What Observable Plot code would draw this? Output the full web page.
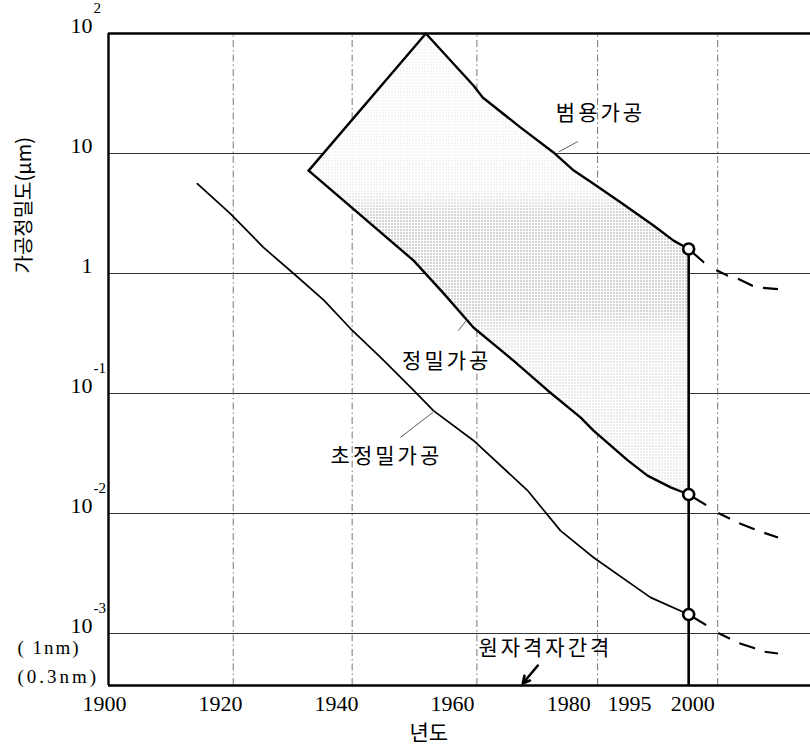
<!DOCTYPE html>
<html><head><meta charset="utf-8">
<script src="https://cdn.jsdelivr.net/npm/d3@7"></script>
<script src="https://cdn.jsdelivr.net/npm/@observablehq/plot@0.6"></script>
<style>html,body{margin:0;padding:0;background:#fff;}</style>
</head><body><div id="chart"></div>
<script>
// ---------- data ----------
const xTickYears = [1900, 1920, 1940, 1960, 1980, 1990.5];
const xTickLabels = ["1900", "1920", "1940", "1960", "1980", "1995"];
const xEndYears = [2000];
const xEndLabels = ["2000"];
const gridYears = [1921.5, 1942, 1963.5, 1984.3, 2005];

const yTickValues = [100, 10, 1, 0.1, 0.01, 0.001];
const yTickBase = ["10", "10", "1", "10", "10", "10"];
const yTickExp = ["2", "", "", "-1", "-2", "-3"];
const yGridValues = [10, 1, 0.1, 0.01, 0.001];
const yMin = Math.pow(10, -3.4333);
const nmValues = [0.001, yMin];
const nmLabels = ["( 1nm)", "(0.3nm)"];

// 범용가공 (upper boundary, from left corner over the peak)
const generalYears  = [1934.5, 1954.7, 1962.9, 1964.5, 1971.0, 1976.7, 1980.2, 1983.6, 1988.3, 1994.0, 1997.4, 2000];
const generalValues = [7.2, 100, 36.9, 29.3, 16.5, 10.2, 7.2, 5.6, 3.9, 2.5, 1.88, 1.6];
// 정밀가공 (lower boundary)
const precisionYears  = [1934.5, 1952.6, 1957.8, 1962.9, 1969.8, 1975.7, 1981.4, 1983.6, 1989.5, 1992.9, 1996.9, 2000];
const precisionValues = [7.2, 1.28, 0.68, 0.355, 0.188, 0.106, 0.063, 0.049, 0.0277, 0.0207, 0.0165, 0.0144];
// 초정밀가공
const ultraYears  = [1915.3, 1921.0, 1926.7, 1931.9, 1937.1, 1941.7, 1946.9, 1952.6, 1956.0, 1962.9, 1972.2, 1977.9, 1983.6, 1993.4, 2000];
const ultraValues = [5.6, 3.16, 1.65, 1.0, 0.6, 0.348, 0.2, 0.106, 0.072, 0.0406, 0.0156, 0.0072, 0.0043, 0.002, 0.00144];

// dashed extrapolation beyond 2000
const extYears = [2000, 2002.6, 2004.9, 2006.7, 2008.4, 2011.0, 2012.8, 2015.4];
const extGeneral   = [1.6, 1.24, 1.06, 0.96, 0.91, 0.79, 0.76, 0.74];
const extPrecision = [0.0144, 0.0121, 0.0102, 0.00926, 0.0084, 0.0075, 0.00695, 0.0063];
const extUltra     = [0.00144, 0.00121, 0.00102, 0.000926, 0.00084, 0.000764, 0.000708, 0.000681];

const circleValues = [1.6, 0.0144, 0.00144];

const labels = ["범용가공", "정밀가공", "초정밀가공", "원자격자간격"];
const labelYears = [1984.8, 1958.3, 1947.9, 1975.3];
const labelValues = [21.5, 0.185, 0.0299, 0.00075];

const leaders = [
  {x1: 1960.3, y1: 0.335, x2: 1961.7, y2: 0.406},
  {x1: 1950.3, y1: 0.043, x2: 1955.9, y2: 0.0695},
  {x1: 1977.6, y1: 10.3, x2: 1980.9, y2: 12.6}
];
const arrowData = [{x1: 1974.0, y1: 0.000541, x2: 1971.4, y2: 0.000383}];

const yTitle = "가공정밀도(μm)";
const xTitle = "년도";

// ---------- build ----------
const toPts = (xs, ys) => xs.map((x, i) => ({x, y: ys[i]}));
const general = toPts(generalYears, generalValues);
const precision = toPts(precisionYears, precisionValues);
const ultra = toPts(ultraYears, ultraValues);
const polygon = general.concat(precision.slice().reverse());
const labelData = labels.map((t, i) => ({t, x: labelYears[i], y: labelValues[i]}));
const xMap = new Map(xTickYears.map((d, i) => [d, xTickLabels[i]]));
const xEndMap = new Map(xEndYears.map((d, i) => [d, xEndLabels[i]]));
const yBaseMap = new Map(yTickValues.map((d, i) => [d, yTickBase[i]]));
const expData = yTickValues.map((v, i) => ({v, e: yTickExp[i]})).filter(d => d.e);
const nmData = nmValues.map((v, i) => ({v, t: nmLabels[i]}));

const SERIF = "Liberation Serif";
const KR = "Noto Sans CJK KR";
const dashPattern = "20.5,14.4,13,10.4,16.6,10.2,15.1";

const chart = Plot.plot({
  width: 810, height: 746,
  marginLeft: 108, marginRight: 0, marginTop: 33, marginBottom: 61,
  x: {domain: [1900, 2021], label: null},
  y: {type: "log", domain: [yMin, 100], label: null},
  style: {fontFamily: SERIF, fontSize: "20px", color: "black", background: "white"},
  marks: [
    Plot.ruleY(yGridValues, {x1: 1900, x2: 2021, stroke: "#333", strokeWidth: 1.1}),
    Plot.ruleX(gridYears, {y1: yMin, y2: 100, stroke: "#777", strokeWidth: 1, strokeDasharray: "7,3,1.5,3"}),
    Plot.line(polygon, {x: "x", y: "y", fill: "white", stroke: "none"}),
    Plot.line(polygon, {x: "x", y: "y", fill: "url(#stipple)", stroke: "none"}),
    Plot.line(general, {x: "x", y: "y", stroke: "black", strokeWidth: 2.4}),
    Plot.line(precision, {x: "x", y: "y", stroke: "black", strokeWidth: 2.4}),
    Plot.line(ultra, {x: "x", y: "y", stroke: "black", strokeWidth: 1.7}),
    Plot.ruleX([2000], {y1: circleValues[0], y2: yMin, stroke: "black", strokeWidth: 2.6}),
    Plot.line(toPts(extYears, extGeneral), {x: "x", y: "y", stroke: "black", strokeWidth: 2.2, strokeDasharray: dashPattern, strokeLinecap: "butt"}),
    Plot.line(toPts(extYears, extPrecision), {x: "x", y: "y", stroke: "black", strokeWidth: 2.2, strokeDasharray: dashPattern, strokeLinecap: "butt"}),
    Plot.line(toPts(extYears, extUltra), {x: "x", y: "y", stroke: "black", strokeWidth: 2.2, strokeDasharray: dashPattern, strokeLinecap: "butt"}),
    Plot.link(leaders, {x1: "x1", y1: "y1", x2: "x2", y2: "y2", stroke: "#333", strokeWidth: 0.8}),
    Plot.arrow(arrowData, {x1: "x1", y1: "y1", x2: "x2", y2: "y2", stroke: "black", strokeWidth: 2.6, headLength: 12, headAngle: 55}),
    Plot.ruleY([100], {x1: 1900, x2: 2021, stroke: "black", strokeWidth: 2.4}),
    Plot.ruleY([yMin], {x1: 1900, x2: 2021, stroke: "black", strokeWidth: 2.4}),
    Plot.ruleX([1900], {y1: yMin, y2: 100, stroke: "black", strokeWidth: 2.4}),
    Plot.dot(circleValues, {x: () => 2000, y: d => d, r: 5.5, fill: "white", stroke: "black", strokeWidth: 2.6}),
    Plot.axisX(xTickYears, {tickFormat: d => xMap.get(d), tickSize: 0, tickPadding: 10, dx: -4, fontSize: 22, fontFamily: SERIF, label: null}),
    Plot.axisX(xEndYears, {tickFormat: d => xEndMap.get(d), tickSize: 0, tickPadding: 10, dx: 4, fontSize: 22, fontFamily: SERIF, label: null}),
    Plot.axisY(yTickValues, {tickFormat: d => yBaseMap.get(d), tickSize: 0, tickPadding: 16, dy: -8, fontSize: 22, fontFamily: SERIF, label: null}),
    Plot.text(expData, {y: "v", text: "e", frameAnchor: "left", dx: -15, dy: -25, textAnchor: "start", fontSize: 15, fontFamily: SERIF}),
    Plot.text(nmData, {y: "v", text: "t", frameAnchor: "left", dx: -91, textAnchor: "start", fontSize: 19, fontFamily: SERIF}),
    Plot.text(labelData, {x: "x", y: "y", text: "t", fontSize: 21, fontFamily: KR}),
    Plot.text([yTitle], {y: () => 1, text: d => d, frameAnchor: "left", dx: -84, rotate: -90, fontSize: 20, fontFamily: KR}),
    Plot.text([xTitle], {x: () => 1955.2, text: d => d, frameAnchor: "bottom", dy: 54, fontSize: 21, fontFamily: KR})
  ]
});

// defs: stipple pattern + density mask
const ns = "http://www.w3.org/2000/svg";
const svgEl = chart;
const defs = document.createElementNS(ns, "defs");
const yScale = chart.scale("y");
const py = v => yScale.apply(v);
const gTop = py(100), gBot = py(0.0144);
const stops = [[100, 0.2], [5, 0.25], [3.2, 1], [0.5, 1], [0.3, 0.5], [0.0144, 0.4]];
defs.innerHTML = `
<pattern id="stipple" patternUnits="userSpaceOnUse" width="3" height="3">
  <rect x="1" y="1" width="1" height="1" fill="#555"></rect>
</pattern>
<linearGradient id="fadeGrad" gradientUnits="userSpaceOnUse" x1="0" y1="${gTop}" x2="0" y2="${gBot}">
  ${stops.map(([v, o]) => `<stop offset="${(py(v) - gTop) / (gBot - gTop)}" stop-color="white" stop-opacity="${o}"></stop>`).join("")}
</linearGradient>
<mask id="fade" maskUnits="userSpaceOnUse" x="0" y="0" width="810" height="746">
  <rect x="0" y="0" width="810" height="746" fill="url(#fadeGrad)"></rect>
</mask>`;
svgEl.insertBefore(defs, svgEl.firstChild);
svgEl.querySelectorAll('[fill="url(#stipple)"]').forEach(g => g.setAttribute("mask", "url(#fade)"));

// nm label offsets & letter spacing
d3.select(svgEl).selectAll("text").each(function () {
  const t = this.textContent;
  if (labels.includes(t)) this.style.letterSpacing = "3px";
  if (t === nmLabels[0]) { this.setAttribute("dy", "14"); this.style.letterSpacing = "2px"; }
  if (t === nmLabels[1]) { this.setAttribute("dy", "-9"); this.style.letterSpacing = "3px"; }
});

document.getElementById("chart").appendChild(chart);
</script>
</body></html>
